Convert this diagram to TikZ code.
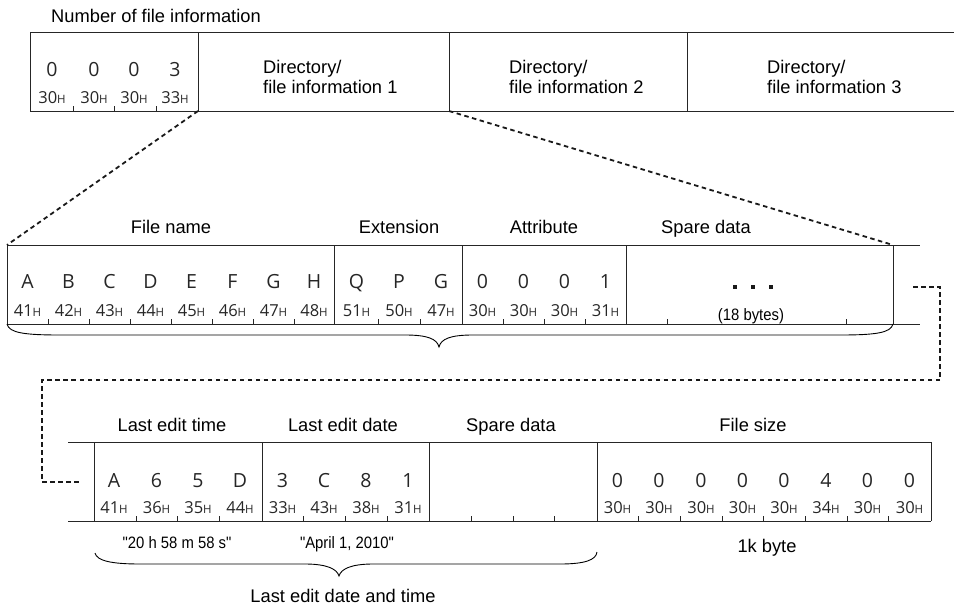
\documentclass[tikz,border=0pt]{standalone}
\usepackage{fontspec}
\setmainfont{Liberation Sans}
\newfontfamily\cellfont{Open Sans}
\newfontfamily\sqfont{Liberation Sans}[Ligatures=TeXOff, FakeStretch=0.9]
\newcommand\hexv[1]{#1{\fontsize{11.5}{12}\selectfont H}}
\tikzset{
  ln/.style={line width=0.9pt, draw=black!85},
  conn/.style={line width=1.8pt, dash pattern=on 4.5pt off 3.5pt, draw=black!90},
  lbl/.style={font=\fontsize{18.3}{20}\selectfont, inner sep=0pt, anchor=base},
  lblw/.style={font=\fontsize{18.3}{20}\selectfont, inner sep=0pt, anchor=base west},
  sml/.style={font=\sqfont\fontsize{16.5}{18}\selectfont, inner sep=0pt, anchor=base},
  chr/.style={font=\cellfont\fontsize{19.5}{21}\selectfont, inner sep=0pt, anchor=base, text=black!85},
  hx/.style={font=\cellfont\fontsize{16.5}{18}\selectfont, inner sep=0pt, anchor=base, text=black!85},
}
\begin{document}
\begin{tikzpicture}[x=1pt,y=-1pt]
\useasboundingbox (0,0) rectangle (954,605);

% ---------------- top row ----------------
\node[lbl] (numlbl) at (156,22) {Number of file information};
\draw[ln] (30,32) -- (954,32);
\draw[ln] (30,111) -- (954,111);
\foreach \x in {30,198,449,687} \draw[ln] (\x,32) -- (\x,111);
\foreach \x in {73,114,156} \draw[ln] (\x,111) -- (\x,105.5);
\foreach \x/\c/\h [count=\i] in {52/0/30,94/0/30,134/0/30,175/3/33} {
  \node[chr] (tc\i) at (\x,76) {\c};
  \node[hx] (th\i) at (\x,103.5) {\hexv{\h}};
}
\node[lblw] (d1a) at (263,73) {Directory/};
\node[lblw] (d1b) at (263,93) {file information 1};
\node[lblw] (d2a) at (509,73) {Directory/};
\node[lblw] (d2b) at (509,93) {file information 2};
\node[lblw] (d3a) at (767,73) {Directory/};
\node[lblw] (d3b) at (767,93) {file information 3};
\coordinate (numBR) at (198,111);
\coordinate (d1BR) at (449,111);

% ---------------- middle row ----------------
\node[lbl] (fnl) at (171,233) {File name};
\node[lbl] (exl) at (399,233) {Extension};
\node[lbl] (atl) at (544,233) {Attribute};
\node[lbl] (spl) at (706,233) {Spare data};
\draw[ln] (7,245) -- (920,245);
\draw[ln] (7,324) -- (920,324);
\foreach \x in {7,334,462,626,893} \draw[ln] (\x,245) -- (\x,324);
\foreach \x in {48,89,130,171,212,253,294,378,420,503,544,585,667,846} \draw[ln] (\x,324) -- (\x,318.5);
\foreach \x/\c/\h [count=\i] in {27.5/A/41,68.5/B/42,109.5/C/43,150.5/D/44,191.5/E/45,232.5/F/46,273.5/G/47,314/H/48,
  356.5/Q/51,399/P/50,441/G/47,482.5/0/30,523.5/0/30,564.5/0/30,605.5/1/31} {
  \node[chr] (mc\i) at (\x,288) {\c};
  \node[hx] (mh\i) at (\x,316) {\hexv{\h}};
}
\foreach \x in {735,753,771} \fill[black!90] (\x-2,285) rectangle (\x+2,289);
\node[sml] (b18) at (751,320) {(18 bytes)};
\coordinate (rowTL) at (7,245);
\coordinate (rowTR) at (893,245);
% brace under middle row
\draw[line width=0.9pt] (7,324) .. controls (9,333) and (25,335) .. (60,335) -- (405,335)
  .. controls (428,335) and (437,339) .. (439,347)
  .. controls (441,339) and (450,335) .. (473,335) -- (840,335)
  .. controls (875,335) and (891,333) .. (893,324);

% dashed connectors
\coordinate (c1) at (913,287);
\coordinate (c2) at (940,287);
\coordinate (c3) at (940,380);
\coordinate (c4) at (42,380);
\coordinate (c5) at (42,482);
\coordinate (c6) at (80,482);
\draw[conn] (numBR) -- (rowTL);
\draw[conn] (d1BR) -- (rowTR);
\draw[conn] (c1) -- (c2) -- (c3) -- (c4) -- (c5) -- (c6);

% ---------------- bottom row ----------------
\node[lbl] (ltl) at (172,431) {Last edit time};
\node[lbl] (ldl) at (343,431) {Last edit date};
\node[lbl] (sp2) at (511,431) {Spare data};
\node[lbl] (fsl) at (753,431) {File size};
\draw[ln] (68,442) -- (931,442);
\draw[ln] (68,521) -- (931,521);
\foreach \x in {94,262,429,597,931} \draw[ln] (\x,442) -- (\x,521);
\foreach \x in {136,177,219,303,345,387,471,513,554,638,680,722,763,805,847,888} \draw[ln] (\x,521) -- (\x,515.5);
\foreach \x/\c/\h [count=\i] in {114/A/41,156.5/6/36,198/5/35,240/D/44,282.5/3/33,324/C/43,366/8/38,408/1/31,
  617.5/0/30,659/0/30,701/0/30,742.5/0/30,784/0/30,826/4/34,867.5/0/30,909.5/0/30} {
  \node[chr] (bc\i) at (\x,487) {\c};
  \node[hx] (bh\i) at (\x,513.5) {\hexv{\h}};
}
\node[sml] (tm) at (177,548) {"20 h 58 m 58 s"};
\node[sml] (dt) at (347,548) {"April 1, 2010"};
\node[lbl] (kb) at (767,552) {1k byte};
% brace under time/date/spare
\draw[line width=0.9pt] (95,553) .. controls (97,561) and (112,564) .. (140,564) -- (305,564)
  .. controls (327,564) and (337,569) .. (339,576)
  .. controls (341,569) and (351,564) .. (373,564) -- (560,564)
  .. controls (585,564) and (596,560) .. (597,552);
\node[lbl] (ledt) at (343,602) {Last edit date and time};
\end{tikzpicture}
\end{document}
